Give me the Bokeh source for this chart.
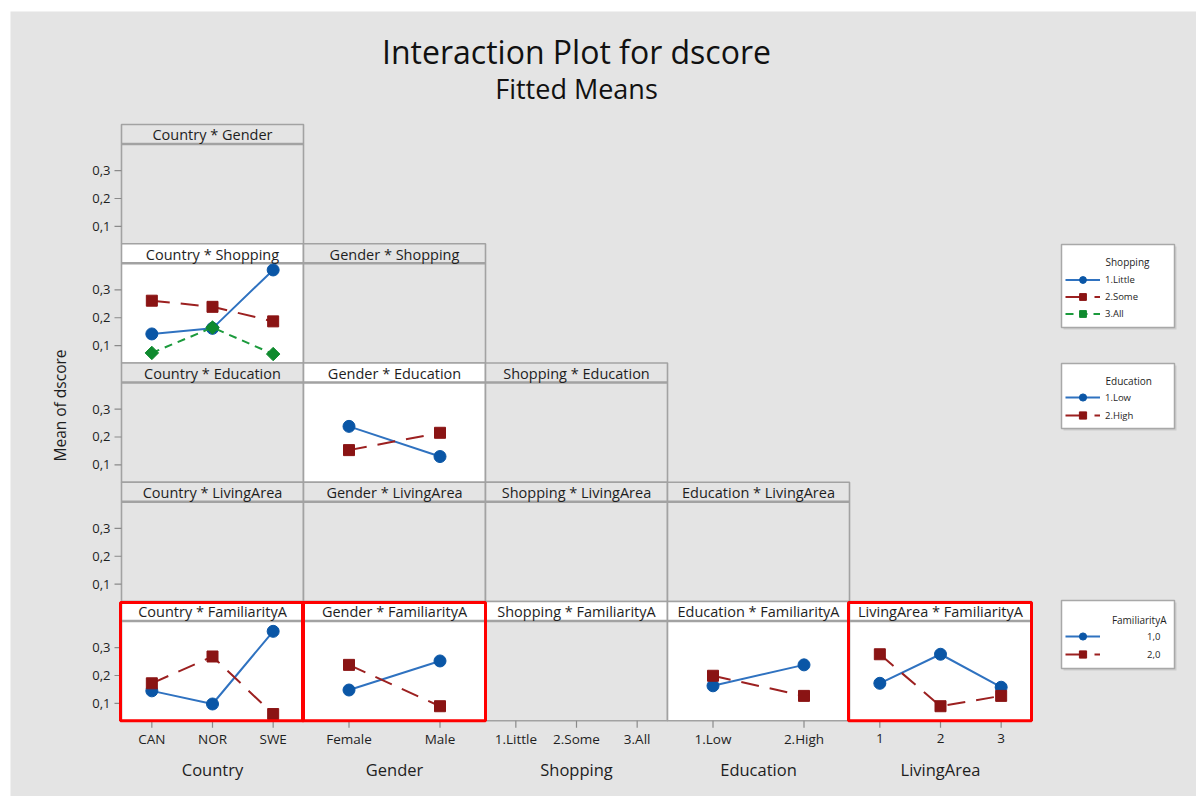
import math
from bokeh.plotting import figure
from bokeh.models import Range1d, Legend, LegendItem
from bokeh.core.properties import value
from bokeh.embed import file_html
from bokeh.resources import INLINE

# ---------------------------------------------------------------- data
country_levels = ["CAN", "NOR", "SWE"]
gender_levels = ["Female", "Male"]
shopping_levels = ["1.Little", "2.Some", "3.All"]
education_levels = ["1.Low", "2.High"]
livingarea_levels = ["1", "2", "3"]
familiarity_levels = ["1,0", "2,0"]

x_factors = ["Country", "Gender", "Shopping", "Education", "LivingArea"]
trace_factors = ["Gender", "Shopping", "Education", "LivingArea", "FamiliarityA"]

y_tick_values = [0.1, 0.2, 0.3]
y_tick_labels = ["0,1", "0,2", "0,3"]

# fitted means of dscore, one list per trace level
country_shopping_little = [0.142, 0.162, 0.371]
country_shopping_some = [0.261, 0.239, 0.187]
country_shopping_all = [0.074, 0.165, 0.070]

gender_education_low = [0.238, 0.130]
gender_education_high = [0.153, 0.215]

country_fam_1 = [0.145, 0.098, 0.358]
country_fam_2 = [0.172, 0.268, 0.062]

gender_fam_1 = [0.148, 0.252]
gender_fam_2 = [0.238, 0.090]

education_fam_1 = [0.163, 0.238]
education_fam_2 = [0.199, 0.127]

livingarea_fam_1 = [0.172, 0.276, 0.158]
livingarea_fam_2 = [0.276, 0.090, 0.127]

levels = {
    "Country": country_levels,
    "Gender": gender_levels,
    "Shopping": shopping_levels,
    "Education": education_levels,
    "LivingArea": livingarea_levels,
    "FamiliarityA": familiarity_levels,
}

panel_means = {
    ("Country", "Shopping"): [country_shopping_little, country_shopping_some, country_shopping_all],
    ("Gender", "Education"): [gender_education_low, gender_education_high],
    ("Country", "FamiliarityA"): [country_fam_1, country_fam_2],
    ("Gender", "FamiliarityA"): [gender_fam_1, gender_fam_2],
    ("Education", "FamiliarityA"): [education_fam_1, education_fam_2],
    ("LivingArea", "FamiliarityA"): [livingarea_fam_1, livingarea_fam_2],
}
highlighted = [("Country", "FamiliarityA"), ("Gender", "FamiliarityA"), ("LivingArea", "FamiliarityA")]

# ---------------------------------------------------------------- style
FONT_NAME = "Open Sans"
FONT = value(FONT_NAME)
PAGE_BG = "#e4e4e4"
BORDER = "#a2a2a2"
TEXT = "#1e1e1e"

series_style = [
    dict(line="#2f72c0", fill="#0a56a6", marker="circle", dash="solid", size=12, angle=0.0),
    dict(line="#9c2020", fill="#8a1414", marker="square", dash="18 11", size=11, angle=0.0),
    dict(line="#1b9a3c", fill="#0f8a2e", marker="square", dash="8 6", size=9.5, angle=math.pi / 4),
]

W, H = 1196, 796
COL_X = [121, 303, 485, 667, 849, 1031]
ROW_TOP = 124
ROW_H = 119.25
HEAD_H = 19.5
Y_SRC = (0.038, 0.395)
TICK_LEN = 7

p = figure(width=W, height=H, x_range=Range1d(0, W), y_range=Range1d(H, 0),
           output_backend="svg", toolbar_location=None, min_border=0,
           x_axis_type=None, y_axis_type=None)
p.outline_line_color = None
p.background_fill_color = "white"
p.border_fill_color = "white"

# page background
p.quad(left=10, right=W, top=11, bottom=H, fill_color=PAGE_BG, line_color=None)

# titles
p.text(x=[576], y=[51], text=["Interaction Plot for dscore"], text_font=FONT,
       text_font_size="32px", text_align="center", text_baseline="middle", text_color="#111111")
p.text(x=[576], y=[88], text=["Fitted Means"], text_font=FONT,
       text_font_size="27px", text_align="center", text_baseline="middle", text_color="#111111")

legend_sources = {}

for r, tf in enumerate(trace_factors):
    top = ROW_TOP + r * ROW_H
    hb = top + HEAD_H
    bot = top + ROW_H
    for c in range(r + 1):
        xf = x_factors[c]
        x0, x1 = COL_X[c], COL_X[c + 1]
        key = (xf, tf)
        filled = key in panel_means
        head_fill = "white" if (filled or r == 4) else PAGE_BG
        body_fill = "white" if filled else PAGE_BG
        p.quad(left=x0, right=x1, top=top, bottom=hb, fill_color=head_fill, line_color=None)
        p.quad(left=x0, right=x1, top=hb, bottom=bot, fill_color=body_fill, line_color=None)
        p.quad(left=x0, right=x1, top=top, bottom=bot, fill_alpha=0, line_color=BORDER, line_width=1.6)
        p.segment(x0=[x0], y0=[hb], x1=[x1], y1=[hb], line_color=BORDER, line_width=2.6)
        p.text(x=[(x0 + x1) / 2], y=[top + HEAD_H / 2 + 0.5], text=[f"{xf} * {tf}"], text_font=FONT,
               text_font_size="14.5px", text_align="center", text_baseline="middle", text_color=TEXT)

        n = len(levels[xf])
        xs = list(range(1, n + 1))
        sub = p.subplot(x_source=Range1d(0.5, n + 0.5), y_source=Range1d(*Y_SRC),
                        x_target=Range1d(x0, x1), y_target=Range1d(bot, hb))
        ux = n / (x1 - x0)
        uy = (Y_SRC[1] - Y_SRC[0]) / (bot - hb)

        if c == 0:
            sub.segment(x0=[0.5] * 3, x1=[0.5 - TICK_LEN * ux] * 3, y0=y_tick_values, y1=y_tick_values,
                        line_color="#8a8a8a", line_width=1.2)
            sub.text(x=[0.5] * 3, y=y_tick_values, text=y_tick_labels, x_offset=-11,
                     text_font=FONT, text_font_size="13px", text_align="right",
                     text_baseline="middle", text_color=TEXT)
        if r == 4:
            sub.segment(x0=xs, x1=xs, y0=[Y_SRC[0]] * n, y1=[Y_SRC[0] - TICK_LEN * uy] * n,
                        line_color="#8a8a8a", line_width=1.2)
            sub.text(x=xs, y=[Y_SRC[0]] * n, text=levels[xf], y_offset=18,
                     text_font=FONT, text_font_size="13.5px", text_align="center",
                     text_baseline="middle", text_color=TEXT)

        if filled:
            items = []
            for i, means in enumerate(panel_means[key]):
                st = series_style[i]
                lr = sub.line(x=xs, y=means, line_color=st["line"], line_width=2, line_dash=st["dash"])
                mr = sub.scatter(x=xs, y=means, marker=st["marker"], size=st["size"], angle=st["angle"],
                                 fill_color=st["fill"], line_color=st["fill"])
                items.append(LegendItem(label=levels[tf][i], renderers=[lr, mr]))
            if tf not in legend_sources:
                legend_sources[tf] = items

# axis titles along the bottom
for c, xf in enumerate(x_factors):
    p.text(x=[(COL_X[c] + COL_X[c + 1]) / 2], y=[769], text=[xf], text_font=FONT,
           text_font_size="16.5px", text_align="center", text_baseline="middle", text_color=TEXT)

p.text(x=[59], y=[405], text=["Mean of dscore"], angle=math.pi / 2, text_font=FONT,
       text_font_size="15.5px", text_align="center", text_baseline="middle", text_color=TEXT)

# red highlight frames
for xf, tf in highlighted:
    c = x_factors.index(xf)
    r = trace_factors.index(tf)
    top = ROW_TOP + r * ROW_H
    p.quad(left=COL_X[c] - 1, right=COL_X[c + 1], top=top + 1, bottom=top + ROW_H,
           fill_alpha=0, line_color="#ff0000", line_width=3)

# legend boxes
legend_boxes = [
    ("Shopping", 244, 327, 261, 279, 17, "left"),
    ("Education", 363, 428, 380, 397, 18, "left"),
    ("FamiliarityA", 600, 668, 619, 636, 18, "right"),
]
for tf, btop, bbot, ttl_y, first_y, step, align in legend_boxes:
    p.quad(left=1063, right=1176, top=btop + 2, bottom=bbot + 2, fill_color="#cccccc", line_color=None)
    p.quad(left=1061, right=1174, top=btop, bottom=bbot, fill_color="white", line_color="#a8a8a8", line_width=1.5)
    tx = 1105 if align == "left" else 1166
    p.text(x=[tx], y=[ttl_y], text=[tf], text_font=FONT, text_font_size="10px",
           text_align=align, text_baseline="middle", text_color=TEXT)
    items = legend_sources[tf]
    n_items = len(items)
    total_h = n_items * step
    top_edge = first_y - step / 2
    leg = Legend(items=items, location=(1065, H - (top_edge + total_h)),
                 orientation="vertical", padding=0, margin=0, spacing=0,
                 glyph_width=35, glyph_height=step, label_height=step,
                 label_standoff=5 if align == "left" else 47,
                 label_text_font=FONT_NAME, label_text_font_size="9.5px", label_text_color=TEXT,
                 border_line_color=None, background_fill_alpha=0)
    p.add_layout(leg, "center")

open("out.html", "w").write(file_html(p, INLINE))
